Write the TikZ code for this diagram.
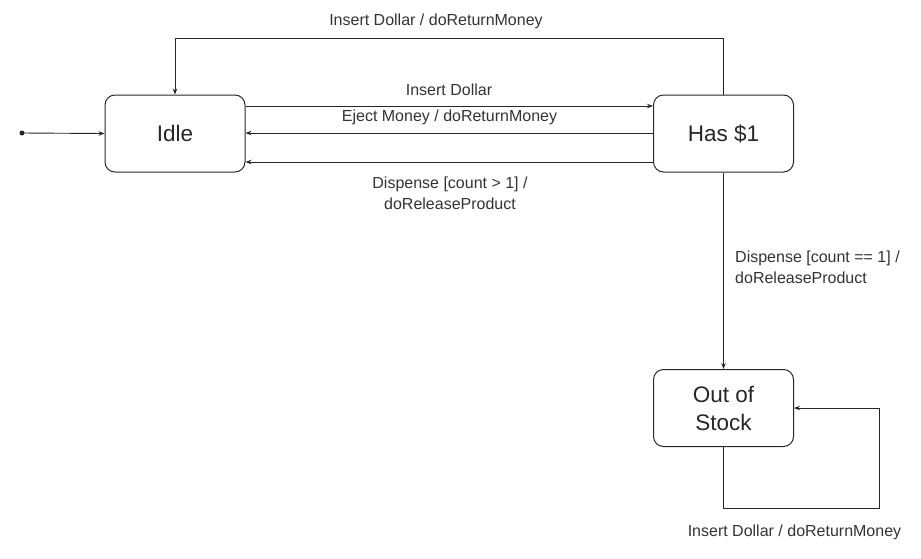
\documentclass[tikz,border=0pt]{standalone}
\usepackage{fontspec}
\setmainfont{Liberation Sans}
\usetikzlibrary{arrows.meta}
\begin{document}
\begin{tikzpicture}[x=1pt,y=-1pt,
  state/.style={draw=black!85,line width=1pt,rounded corners=10pt,minimum width=140pt,minimum height=77pt,inner sep=0pt,font=\fontsize{22.5}{28}\selectfont,align=center,text=black!85},
  lbl/.style={font=\fontsize{16}{21}\selectfont,text=black!80,inner sep=0pt,align=center},
  tr/.style={draw=black!85,line width=0.9pt,-{Stealth[length=6pt,width=4.5pt]}}]
\useasboundingbox (0,0) rectangle (921,558);
\node[state] (idle) at (175,133.5) {Idle};
\node[state] (has) at (723.5,133.5) {Has \$1};
\node[state] (out) at (723.5,408) {Out of\\Stock};
\fill[black!85] (22,133) circle (2.5pt) coordinate (init);
\draw[tr] (init) -- (idle.west);
\draw[tr] (has.north) -- (723.5,38) -| (idle.north);
\node[lbl] (l1) at (436,21) {Insert Dollar / doReturnMoney};
\draw[tr] (idle.east |- 0,106) coordinate (a1) -- (has.west |- a1);
\node[lbl] (l2) at (449,90) {Insert Dollar};
\draw[tr] (has.west |- 0,133) coordinate (a2) -- (idle.east |- a2);
\node[lbl] (l3) at (449.5,117) {Eject Money / doReturnMoney};
\draw[tr] (has.west |- 0,162) coordinate (a3) -- (idle.east |- a3);
\node[lbl] (l4) at (450,193) {Dispense [count > 1] /\\doReleaseProduct};
\draw[tr] (has.south) -- (out.north);
\node[lbl,anchor=west,align=left] (l5) at (735,267) {Dispense [count == 1] /\\doReleaseProduct};
\draw[tr] (out.south) -- (723.5,508) -| (879,408) -- (out.east);
\node[lbl] (l6) at (794.5,532) {Insert Dollar / doReturnMoney};
\end{tikzpicture}
\end{document}
